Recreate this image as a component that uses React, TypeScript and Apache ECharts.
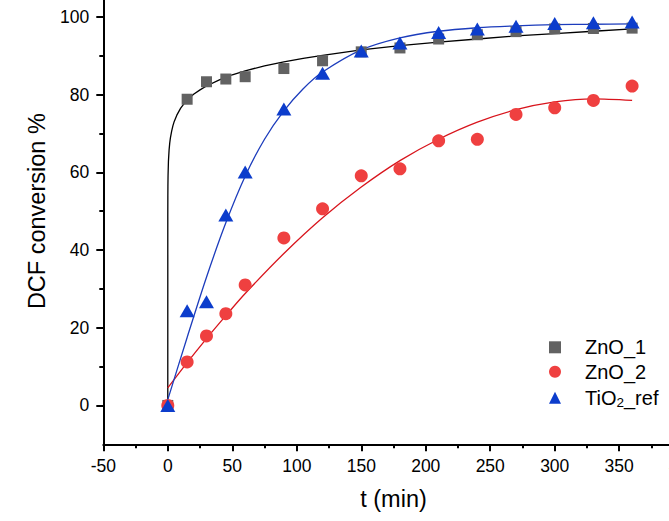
import React, { useEffect, useRef } from "react";
import * as echarts from "echarts";

// Measured points
const tPoints = [0, 15, 30, 45, 60, 90, 120, 150, 180, 210, 240, 270, 300, 330, 360];
const zno1Values = [0, 78.8, 83.3, 84.0, 84.6, 86.7, 88.7, 91.0, 92.0, 94.3, 95.4, 96.2, 96.9, 97.0, 97.1];
const zno2Values = [0, 11.2, 17.9, 23.6, 31.0, 43.1, 50.6, 59.1, 60.9, 68.1, 68.5, 74.9, 76.6, 78.5, 82.2];
const tio2Values = [0, 24.4, 26.7, 49.0, 60.1, 76.3, 85.5, 91.2, 93.3, 96.0, 96.9, 97.6, 98.3, 98.5, 98.7];

// Fit curves
const fit1T = [0, 0.01, 0.05, 0.1, 0.2, 0.5, 1, 1.5, 2, 3, 4, 5, 7, 10, 12.5, 15, 20, 25, 30, 40, 50, 60, 75, 90, 105, 120, 135, 150, 180, 210, 240, 270, 300, 330, 360];
const fit1Y = [0, 48.5, 53.9, 56.4, 59.1, 62.8, 65.7, 67.5, 68.8, 70.6, 72.0, 73.1, 74.7, 76.5, 77.6, 78.6, 80.1, 81.2, 82.2, 83.8, 85.1, 86.1, 87.4, 88.4, 89.3, 90.1, 90.8, 91.5, 92.6, 93.5, 94.3, 95.1, 95.7, 96.3, 96.9];
const fit2T = [0, 15, 30, 45, 60, 90, 120, 150, 180, 210, 240, 270, 300, 330, 360];
const fit2Y = [4.5, 11.0, 17.2, 23.1, 28.8, 39.1, 48.3, 56.2, 63.0, 68.5, 72.9, 76.1, 78.1, 78.9, 78.5];
const fit3T = [0, 15, 30, 45, 60, 75, 90, 105, 120, 150, 180, 210, 240, 270, 300, 330, 360];
const fit3Y = [1.5, 17.5, 33.0, 47.0, 59.0, 68.5, 75.8, 81.5, 85.8, 91.5, 94.6, 96.3, 97.2, 97.7, 98.0, 98.1, 98.2];

const yMajorTicks = [0, 20, 40, 60, 80, 100];
const yMinorTicks = [10, 30, 50, 70, 90];

const FONT = "'Liberation Sans', Arial, sans-serif";

const pairs = (xs: number[], ys: number[]) => xs.map((x, i) => [x, ys[i]]);

export default function App() {
  const ref = useRef<HTMLDivElement>(null);
  useEffect(() => {
    document.body.style.overflow = "hidden";
    const chart = echarts.init(ref.current!, undefined, { renderer: "svg" });
    const axisLineStyle = { color: "#000", width: 2 };
    chart.setOption({
      animation: false,
      backgroundColor: "#fff",
      grid: { left: 103.3, right: 36.3, top: 18, bottom: 76.7, outerBoundsMode: "none" },
      xAxis: {
        type: "value",
        min: -50,
        max: 400,
        interval: 50,
        name: "t (min)",
        nameLocation: "middle",
        nameGap: 43,
        nameTextStyle: { fontSize: 23.5, color: "#000", fontFamily: FONT },
        axisLine: { show: true, onZero: false, lineStyle: axisLineStyle },
        axisTick: { show: true, length: 7, lineStyle: { color: "#000", width: 2 } },
        minorTick: { show: true, splitNumber: 2, length: 4, lineStyle: { color: "#000", width: 2 } },
        axisLabel: { fontSize: 17.5, color: "#000", margin: 13, fontFamily: FONT },
        splitLine: { show: false },
        minorSplitLine: { show: false },
      },
      yAxis: [
        {
          type: "value",
          min: -10,
          max: 110,
          position: "left",
          name: "DCF conversion %",
          nameLocation: "middle",
          nameGap: 54,
          nameTextStyle: { fontSize: 23.5, color: "#000", fontFamily: FONT },
          axisLine: { show: true, onZero: false, lineStyle: axisLineStyle },
          axisTick: { show: true, length: 7, customValues: yMajorTicks, lineStyle: { color: "#000", width: 2 } },
          axisLabel: { customValues: yMajorTicks, fontSize: 17.5, color: "#000", margin: 14, fontFamily: FONT },
          splitLine: { show: false },
        },
        {
          type: "value",
          min: -10,
          max: 110,
          position: "left",
          axisLine: { show: false, onZero: false },
          axisTick: { show: true, length: 4, customValues: yMinorTicks, lineStyle: { color: "#000", width: 2 } },
          axisLabel: { show: false },
          splitLine: { show: false },
        },
      ],
      legend: {
        orient: "vertical",
        left: 544,
        top: 372.3,
        itemWidth: 12,
        itemHeight: 12,
        itemGap: 4.5,
        data: ["ZnO_1", "ZnO_2", "TiO2_ref"],
        formatter: (name: string) =>
          name === "TiO2_ref" ? "{n|TiO}{s|2}{n|_ref}" : "{n|" + name + "}",
        textStyle: {
          padding: [0, 0, 0, 19],
          rich: {
            n: { fontSize: 20, color: "#000", fontFamily: FONT, lineHeight: 22 },
            s: { fontSize: 13.5, color: "#000", fontFamily: FONT, lineHeight: 22, padding: [9, 0, 0, 0] },
          },
        },
      },
      series: [
        {
          type: "line",
          data: pairs(fit1T, fit1Y),
          showSymbol: false,
          smooth: false,
          lineStyle: { color: "#000", width: 1.3 },
          z: 2,
        },
        {
          type: "line",
          data: pairs(fit2T, fit2Y),
          showSymbol: false,
          smooth: 0.3,
          lineStyle: { color: "#d8141c", width: 1.3 },
          z: 2,
        },
        {
          type: "line",
          data: pairs(fit3T, fit3Y),
          showSymbol: false,
          smooth: 0.3,
          lineStyle: { color: "#1c3cbc", width: 1.3 },
          z: 2,
        },
        {
          name: "ZnO_1",
          type: "scatter",
          data: pairs(tPoints, zno1Values),
          symbol: "rect",
          symbolSize: 11,
          itemStyle: { color: "#626262", opacity: 1 },
          z: 3,
        },
        {
          name: "ZnO_2",
          type: "scatter",
          data: pairs(tPoints, zno2Values),
          symbol: "circle",
          symbolSize: 13,
          itemStyle: { color: "#ef4040", opacity: 1 },
          z: 4,
        },
        {
          name: "TiO2_ref",
          type: "scatter",
          data: pairs(tPoints, tio2Values),
          symbol: "triangle",
          symbolSize: [15, 13],
          itemStyle: { color: "#0c3dcc", opacity: 1 },
          z: 5,
        },
      ],
    });
    return () => chart.dispose();
  }, []);
  return (
    <div
      ref={ref}
      style={{ position: "absolute", left: 0, top: -40, width: 720, height: 561 }}
    />
  );
}
